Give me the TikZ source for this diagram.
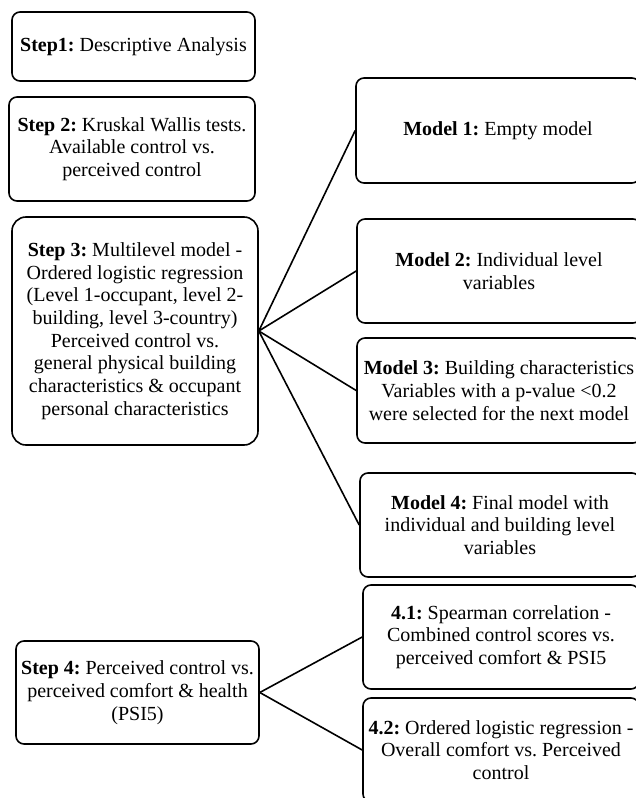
\documentclass[tikz,border=0pt]{standalone}
\usepackage{fontspec}
\setmainfont{Liberation Serif}
\usetikzlibrary{calc}
\frenchspacing

\begin{document}
\begin{tikzpicture}[
    x=1pt, y=-1pt,
    stepbox/.style={draw=black, line width=1.6pt, rounded corners=8pt,
      align=center, inner sep=0pt, font=\fontsize{20}{22.7}\selectfont},
    modelbox/.style={stepbox, minimum width=284pt, minimum height=105pt},
    link/.style={draw=black, line width=1.6pt},
  ]

  % ══════════════════════════════════════════════════════
  % Frame
  % ══════════════════════════════════════════════════════
  \useasboundingbox (0,0) rectangle (635,798);

  % ══════════════════════════════════════════════════════
  % Steps (left column)
  % ══════════════════════════════════════════════════════
  \node[stepbox, minimum width=243pt, minimum height=69pt] (step1)
    at (133.5,46.5) {\textbf{Step1:} Descriptive Analysis};

  \node[stepbox, minimum width=246pt, minimum height=104pt] (step2)
    at (132,149) {\textbf{Step 2:} Kruskal Wallis tests.\\
      Available control vs.\\ perceived control};

  \node[stepbox, rounded corners=14pt, minimum width=246pt,
        minimum height=228pt] (step3)
    at (135,331) {\textbf{Step 3:} Multilevel model -\\
      Ordered logistic regression\\
      (Level 1-occupant, level 2-\\
      building, level 3-country)\\
      Perceived control vs.\\
      general physical building\\
      characteristics \& occupant\\
      personal characteristics};

  \node[stepbox, minimum width=243pt, minimum height=103pt] (step4)
    at (137.5,692.5) {\textbf{Step 4:} Perceived control vs.\\
      perceived comfort \& health\\ (PSI5)};

  % ══════════════════════════════════════════════════════
  % Models (right column, cut by the right margin)
  % ══════════════════════════════════════════════════════
  \node[modelbox] (model1) at (498,130.5)
    {\textbf{Model 1:} Empty model};

  \node[modelbox, minimum height=104pt] (model2) at (499,271)
    {\textbf{Model 2:} Individual level\\ variables};

  \node[modelbox] (model3) at (499,390.5)
    {\textbf{Model 3:} Building characteristics\\
      Variables with a p-value <0.2\\
      were selected for the next model};

  \node[modelbox, minimum width=280pt, minimum height=104pt] (model4)
    at (500,525) {\textbf{Model 4:} Final model with\\
      individual and building level\\ variables};

  \node[modelbox, minimum width=276pt, minimum height=104pt] (sub41)
    at (501,637) {\textbf{4.1:} Spearman correlation -\\
      Combined control scores vs.\\ perceived comfort \& PSI5};

  \node[modelbox, minimum width=276pt, minimum height=104pt] (sub42)
    at (501,750) {\textbf{4.2:} Ordered logistic regression -\\
      Overall comfort vs. Perceived\\ control};

  % ══════════════════════════════════════════════════════
  % Fan-out connectors
  % ══════════════════════════════════════════════════════
  \foreach \m in {model1, model2, model3, model4}{
    \draw[link] (step3.east) -- (\m.west);
  }
  \foreach \m in {sub41, sub42}{
    \draw[link] (step4.east) -- (\m.west);
  }

\end{tikzpicture}
\end{document}
